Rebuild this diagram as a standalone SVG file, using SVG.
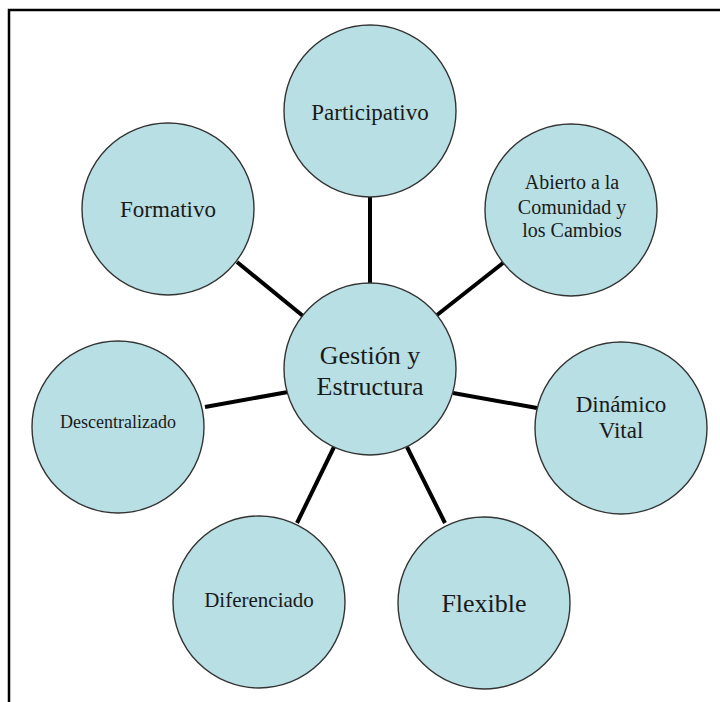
<svg xmlns="http://www.w3.org/2000/svg" width="720" height="702" viewBox="0 0 720 702">
<style>
.n{fill:#b8dfe3;stroke:#333;stroke-width:1.4}
.t{fill:#1a1a1a;text-anchor:middle}
.c line{stroke:#000;stroke-width:4}
</style>
<rect x="0" y="0" width="720" height="702" fill="#fff"/>
<rect x="9" y="10" width="730" height="730" fill="none" stroke="#000" stroke-width="2.5"/>
<g class="c" id="connectors">
<line x1="370" y1="197" x2="370" y2="284"/>
<line x1="237" y1="262" x2="303" y2="316"/>
<line x1="503" y1="263" x2="437" y2="315"/>
<line x1="205" y1="407" x2="288" y2="392"/>
<line x1="453" y1="393" x2="537" y2="408"/>
<line x1="297" y1="523" x2="334" y2="447"/>
<line x1="407" y1="447" x2="445" y2="523"/>
</g>
<g font-family="Liberation Serif, Tinos, Times New Roman, serif">
<g id="center"><circle class="n" cx="370" cy="369" r="86"/><text class="t" font-size="26" x="370" y="364">Gestión y</text><text class="t" font-size="26" x="370" y="395">Estructura</text></g>
<g id="participativo"><circle class="n" cx="370" cy="111" r="86"/><text class="t" font-size="23" x="370" y="120">Participativo</text></g>
<g id="formativo"><circle class="n" cx="168" cy="209" r="86"/><text class="t" font-size="23" x="168" y="217">Formativo</text></g>
<g id="abierto"><circle class="n" cx="571" cy="210" r="86"/><text class="t" font-size="20" x="572" y="189">Abierto a la</text><text class="t" font-size="20" x="572" y="214">Comunidad y</text><text class="t" font-size="20" x="572" y="237">los Cambios</text></g>
<g id="descentralizado"><circle class="n" cx="118" cy="427" r="86"/><text class="t" font-size="18" x="118" y="428">Descentralizado</text></g>
<g id="dinamico"><circle class="n" cx="621" cy="428" r="86"/><text class="t" font-size="23" x="621" y="412">Dinámico</text><text class="t" font-size="23" x="621" y="438">Vital</text></g>
<g id="diferenciado"><circle class="n" cx="259" cy="602" r="86"/><text class="t" font-size="21" x="259" y="607">Diferenciado</text></g>
<g id="flexible"><circle class="n" cx="484" cy="603" r="86"/><text class="t" font-size="26" x="484" y="612">Flexible</text></g>
</g>
</svg>
